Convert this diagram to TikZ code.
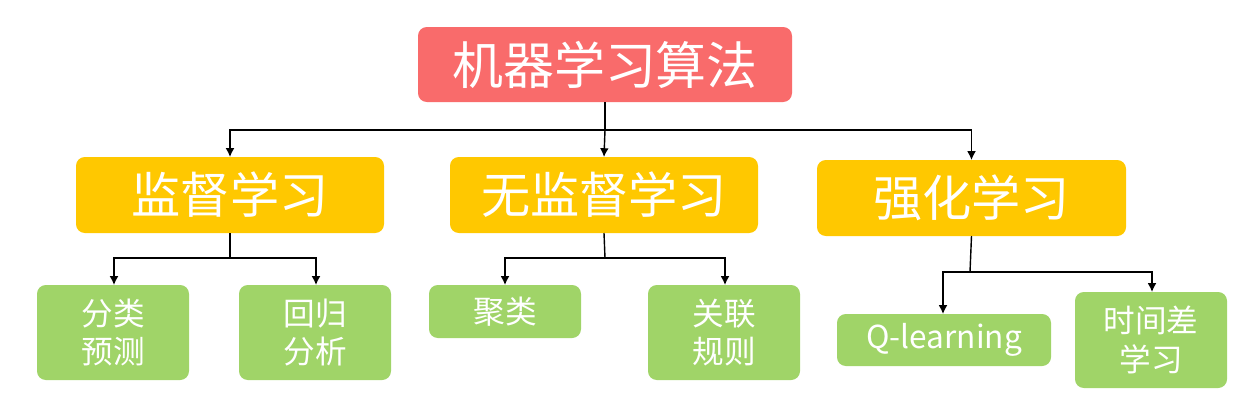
\documentclass[tikz,border=0pt]{standalone}
\usepackage{fontspec}
\setmainfont{Noto Sans CJK SC}
\usetikzlibrary{arrows.meta}
\definecolor{rootcol}{HTML}{F96B6B}
\definecolor{catcol}{HTML}{FFC800}
\definecolor{leafcol}{HTML}{A0D468}
\tikzset{
  rootbox/.style={fill=rootcol, rounded corners=5pt, text=white, font=\fontsize{29}{32}\selectfont},
  catbox/.style={fill=catcol, rounded corners=5pt, text=white, font=\fontsize{28}{32}\selectfont},
  leafbox/.style={fill=leafcol, rounded corners=5pt, text=white, font=\fontsize{18}{22}\selectfont, align=center},
  link/.style={-{Latex[length=5pt,width=5pt]}, thick},
}
\newcommand{\boxat}[6]{% style, name, x1, y1, x2, y2
  \path[#1] (#3,-#4) rectangle (#5,-#6);
  \coordinate (#2-t) at ({(#3+#5)/2},-#4);
  \coordinate (#2-b) at ({(#3+#5)/2},-#6);
  \coordinate (#2) at ({(#3+#5)/2},{-(#4+#6)/2});
}
\begin{document}
\begin{tikzpicture}[x=0.02cm, y=0.02cm]
\useasboundingbox (0,0) rectangle (1248,-400);
% boxes
\boxat{rootbox}{root}{418}{27}{792}{102}
\boxat{catbox}{sup}{76}{157}{384}{233}
\boxat{catbox}{unsup}{450}{157}{758}{233}
\boxat{catbox}{rl}{817}{160}{1126}{236}
\boxat{leafbox}{cls}{37}{285}{189}{380}
\boxat{leafbox}{reg}{239}{285}{391}{380}
\boxat{leafbox}{clu}{429}{285}{581}{338}
\boxat{leafbox}{ass}{648}{285}{800}{380}
\boxat{leafbox}{ql}{837}{314}{1051}{366}
\boxat{leafbox}{td}{1075}{292}{1227}{388}
% texts
\node[rootbox, fill=none] (rootlbl) at (root) {机器学习算法};
\node[catbox, fill=none] (suplbl) at (sup) {监督学习};
\node[catbox, fill=none] (unsuplbl) at (unsup) {无监督学习};
\node[catbox, fill=none] (rllbl) at (rl) {强化学习};
\node[leafbox, fill=none] (clslbl) at (cls) {分类\\预测};
\node[leafbox, fill=none] (reglbl) at (reg) {回归\\分析};
\node[leafbox, fill=none] (clulbl) at (clu) {聚类};
\node[leafbox, fill=none] (asslbl) at (ass) {关联\\规则};
\node[leafbox, fill=none] (qllbl) at (ql) {Q-learning};
\node[leafbox, fill=none] (tdlbl) at (td) {时间差\\学习};
% connectors
\coordinate (j0) at (605,-130);
\draw[thick] (root-b) -- (j0);
\draw[link] (j0) -| (sup-t);
\draw[link] (j0) -- (unsup-t);
\draw[link] (j0) -| (rl-t);
\coordinate (j1) at (230,-258);
\draw[thick] (sup-b) -- (j1);
\draw[link] (j1) -| (114,-285);
\draw[link] (j1) -| (316,-285);
\coordinate (j2) at (605,-258);
\draw[thick] (unsup-b) -- (j2);
\draw[link] (j2) -| (505,-285);
\draw[link] (j2) -| (725,-285);
\coordinate (j3) at (970,-272);
\draw[thick] (rl-b) -- (j3);
\draw[link] (j3) -| (943,-314);
\draw[link] (j3) -| (1152,-292);
\end{tikzpicture}
\end{document}
